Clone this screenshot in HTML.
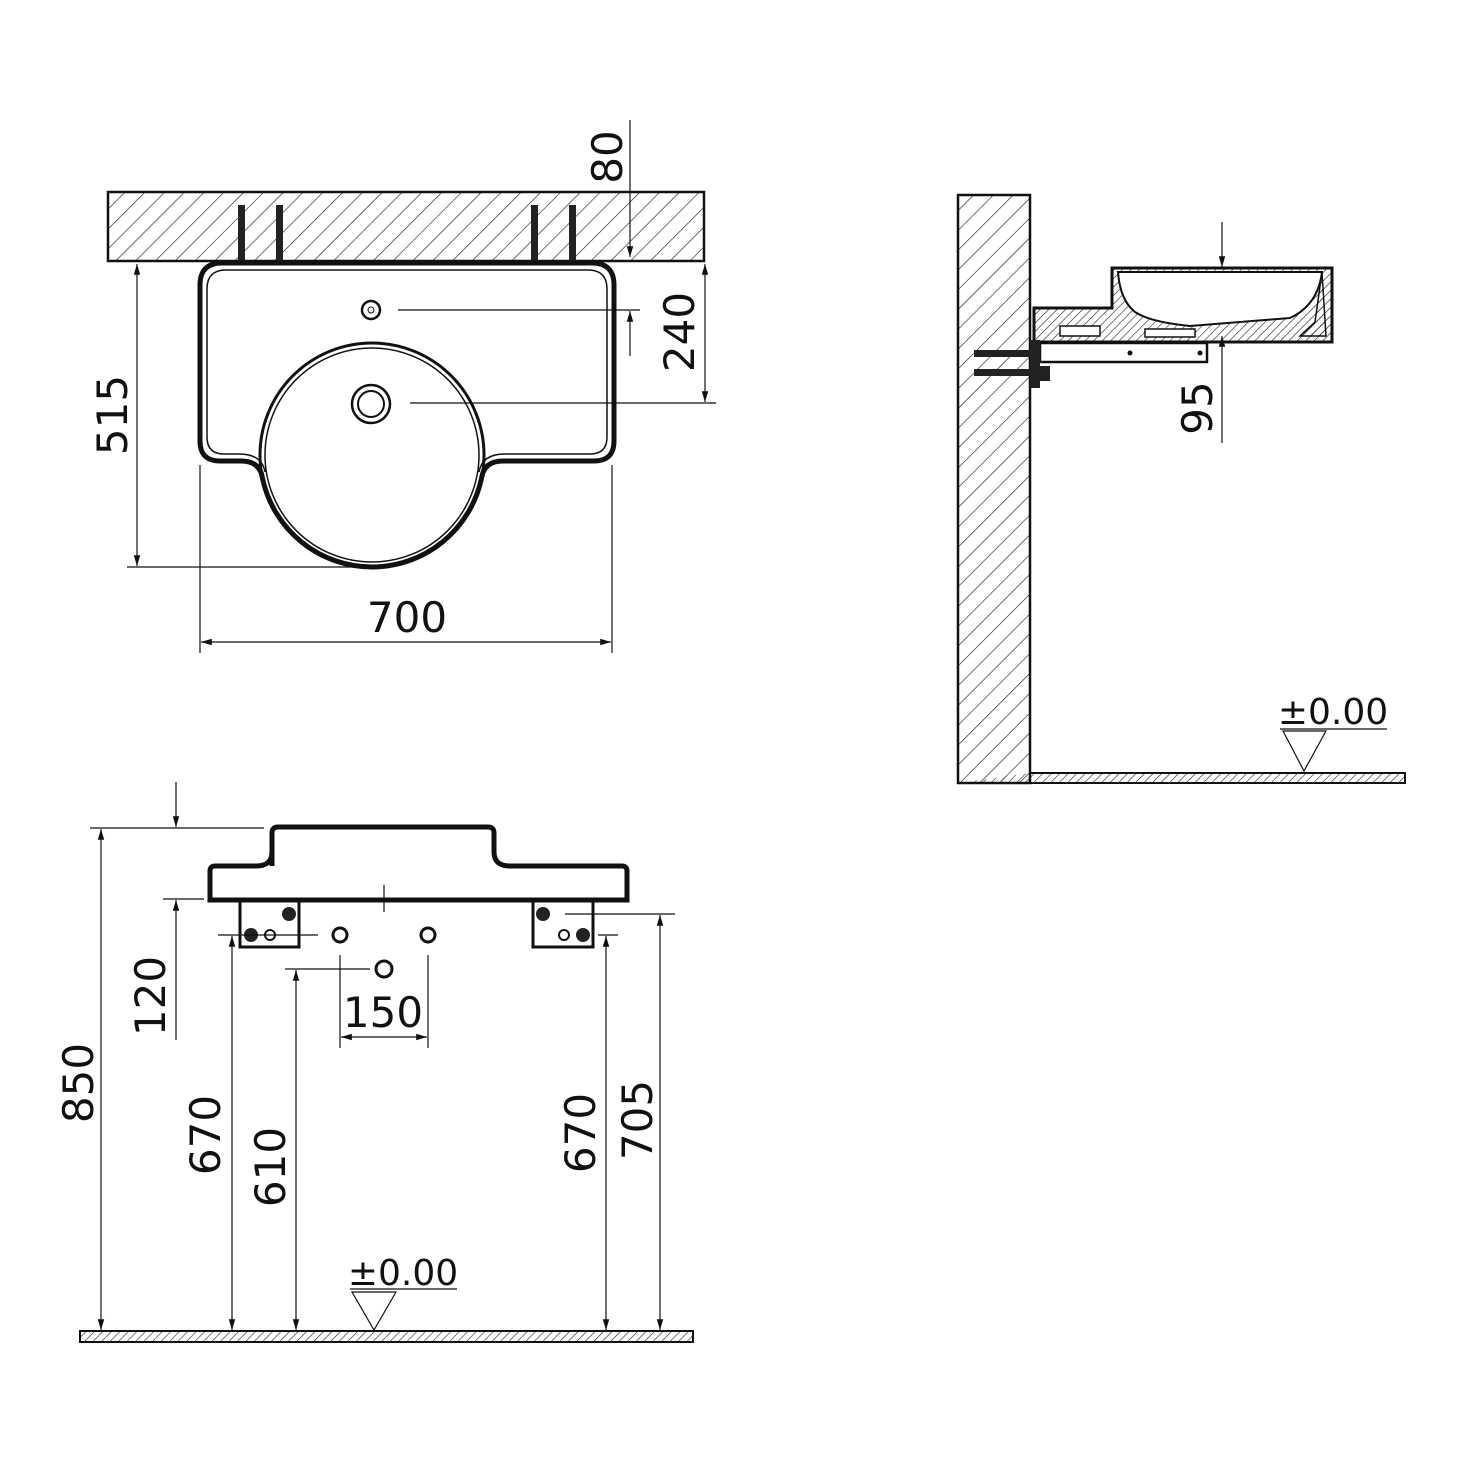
<!DOCTYPE html>
<html><head><meta charset="utf-8"><style>body{margin:0;background:#fff}svg{display:block}text{font-family:"DejaVu Sans","Liberation Sans",sans-serif;fill:#111}</style></head><body>
<svg width="1468" height="1468" viewBox="0 0 1468 1468" xmlns="http://www.w3.org/2000/svg">
<defs>
<pattern id="h" width="14" height="14" patternUnits="userSpaceOnUse" patternTransform="rotate(45)"><line x1="0" y1="0" x2="0" y2="14" stroke="#222" stroke-width="1.3"/></pattern>
<pattern id="h2" width="6" height="6" patternUnits="userSpaceOnUse" patternTransform="rotate(45)"><line x1="0" y1="0" x2="0" y2="6" stroke="#222" stroke-width="1.2"/></pattern>
<marker id="a" viewBox="0 0 10 10" refX="10" refY="5" markerWidth="9" markerHeight="9" orient="auto-start-reverse"><path d="M0,2 L10,5 L0,8 Z" fill="#111"/></marker>
</defs>
<g fill="none" stroke="#111">
<!-- TOP VIEW -->
<rect x="108" y="192" width="596" height="69" fill="url(#h)" stroke-width="2.5"/>
<g fill="#222" stroke="none"><rect x="238" y="205" width="7" height="57"/><rect x="276" y="205" width="7" height="57"/><rect x="531" y="205" width="7" height="57"/><rect x="569" y="205" width="7" height="57"/></g>
<path d="M222,263 H592 Q614,263 614,285 V441 Q614,461 594,461 H503 Q484,461 481.6,478 A112,112 0 0 1 262.4,478 Q260,461 241,461 H220 Q200,461 200,441 V285 Q200,263 222,263 Z" fill="#fff" stroke-width="5"/>
<path d="M226,270 H588 Q607,270 607,289 V437 Q607,454 590,454 H505 Q482,454 479,472" stroke-width="1.5"/>
<path d="M265,472 Q262,454 239,454 H224 Q207,454 207,437 V289 Q207,270 226,270" stroke-width="1.5"/>
<circle cx="372" cy="455" r="112" stroke-width="3"/>
<circle cx="372" cy="455" r="107" stroke-width="1.5"/>
<circle cx="371" cy="310" r="9" stroke-width="2.5"/><circle cx="371" cy="310" r="3" stroke-width="1"/>
<circle cx="371" cy="404" r="19" stroke-width="2.5"/><circle cx="371" cy="404" r="13" stroke-width="2"/>
<g stroke-width="1.2">
<line x1="398" y1="310" x2="640" y2="310"/><line x1="410" y1="403" x2="716" y2="403"/>
<line x1="630" y1="120" x2="630" y2="257" marker-end="url(#a)"/>
<line x1="630" y1="356" x2="630" y2="311" marker-end="url(#a)"/>
<line x1="705" y1="264" x2="705" y2="402" marker-start="url(#a)" marker-end="url(#a)"/>
<line x1="137" y1="264" x2="137" y2="566" marker-start="url(#a)" marker-end="url(#a)"/>
<line x1="127" y1="567" x2="370" y2="567"/>
<line x1="200" y1="465" x2="200" y2="653"/><line x1="612" y1="465" x2="612" y2="653"/>
<line x1="201" y1="642" x2="611" y2="642" marker-start="url(#a)" marker-end="url(#a)"/>
</g>
<!-- SIDE VIEW -->
<rect x="958" y="195" width="72" height="588" fill="url(#h)" stroke-width="2.5"/>
<path d="M1030,773 H1405 V783 H958" fill="url(#h2)" stroke-width="2"/>
<path d="M1112,268 H1332 V342 H1034 V308 H1112 Z" fill="url(#h2)" stroke-width="3"/>
<path d="M1118,272 H1322 Q1318,305 1290,318 L1190,326 Q1150,322 1135,312 Q1120,300 1118,272 Z" fill="#fff" stroke-width="2"/>
<path d="M1322,272 L1326,336 H1300 L1315,322 Z" fill="url(#h2)" stroke-width="1.5"/>
<rect x="1060" y="326" width="40" height="10" fill="#fff" stroke-width="1.5"/>
<rect x="1145" y="329" width="50" height="8" fill="#fff" stroke-width="1.5"/>
<rect x="1040" y="343" width="167" height="19" fill="#fff" stroke-width="2.5"/>
<g fill="#222" stroke="none"><rect x="974" y="350" width="56" height="7"/><rect x="974" y="369" width="56" height="7"/><rect x="1030" y="340" width="10" height="48"/><rect x="1040" y="366" width="10" height="15"/></g>
<g fill="#111" stroke="none"><circle cx="1130" cy="353" r="2.5"/><circle cx="1200" cy="353" r="2.5"/></g>
<g stroke-width="1.2">
<line x1="1222" y1="222" x2="1222" y2="267" marker-end="url(#a)"/>
<line x1="1222" y1="443" x2="1222" y2="336" marker-end="url(#a)"/>
<line x1="1280" y1="729" x2="1387" y2="729"/>
<path d="M1283,731 H1326 L1304,771 Z"/>
</g>
<!-- FRONT VIEW -->
<path d="M272,866 V833 Q272,827 278,827 H488 Q494,827 494,833 V852 Q494,866 510,866 H622 Q627,866 627,871 V900 H210 V871 Q210,866 215,866 H256 Q272,866 272,852 Z" stroke-width="5" fill="#fff"/>
<rect x="240" y="900" width="59" height="47" stroke-width="3"/>
<rect x="533" y="900" width="60" height="47" stroke-width="3"/>
<g fill="#222" stroke="none"><circle cx="289" cy="914" r="7"/><circle cx="251" cy="935" r="7"/><circle cx="543" cy="914" r="7"/><circle cx="583" cy="935" r="7"/></g>
<circle cx="270" cy="935" r="5" stroke-width="2"/><circle cx="564" cy="935" r="5" stroke-width="2"/>
<circle cx="340" cy="935" r="7" stroke-width="3"/><circle cx="428" cy="935" r="7" stroke-width="3"/><circle cx="384" cy="969" r="8" stroke-width="3"/>
<rect x="80" y="1331" width="613" height="11" fill="url(#h2)" stroke-width="2"/>
<g stroke-width="1.2">
<line x1="90" y1="828" x2="264" y2="828"/>
<line x1="176" y1="782" x2="176" y2="827" marker-end="url(#a)"/>
<line x1="101" y1="829" x2="101" y2="1330" marker-start="url(#a)" marker-end="url(#a)"/>
<line x1="163" y1="899" x2="204" y2="899"/>
<line x1="176" y1="900" x2="176" y2="1040" marker-start="url(#a)"/>
<line x1="218" y1="935" x2="318" y2="935"/>
<line x1="232" y1="936" x2="232" y2="1330" marker-start="url(#a)" marker-end="url(#a)"/>
<line x1="285" y1="969" x2="370" y2="969"/>
<line x1="296" y1="970" x2="296" y2="1330" marker-start="url(#a)" marker-end="url(#a)"/>
<line x1="340" y1="955" x2="340" y2="1048"/><line x1="428" y1="955" x2="428" y2="1048"/>
<line x1="341" y1="1037" x2="427" y2="1037" marker-start="url(#a)" marker-end="url(#a)"/>
<line x1="598" y1="935" x2="618" y2="935"/>
<line x1="606" y1="936" x2="606" y2="1330" marker-start="url(#a)" marker-end="url(#a)"/>
<line x1="565" y1="914" x2="675" y2="914"/>
<line x1="660" y1="915" x2="660" y2="1330" marker-start="url(#a)" marker-end="url(#a)"/>
<line x1="350" y1="1289" x2="457" y2="1289"/>
<path d="M352,1292 H396 L374,1330 Z"/>
<line x1="384" y1="885" x2="384" y2="912"/>
</g>
</g>
<g font-size="42">
<text x="407" y="632" text-anchor="middle">700</text>
<text transform="translate(127,415) rotate(-90)" text-anchor="middle">515</text>
<text transform="translate(694,332) rotate(-90)" text-anchor="middle">240</text>
<text transform="translate(622,157) rotate(-90)" text-anchor="middle">80</text>
<text transform="translate(1212,408) rotate(-90)" text-anchor="middle">95</text>
<text x="1333" y="724" text-anchor="middle" font-size="36">±0.00</text>
<text x="403" y="1285" text-anchor="middle" font-size="36">±0.00</text>
<text transform="translate(93,1083) rotate(-90)" text-anchor="middle">850</text>
<text transform="translate(165,996) rotate(-90)" text-anchor="middle">120</text>
<text transform="translate(220,1135) rotate(-90)" text-anchor="middle">670</text>
<text transform="translate(285,1167) rotate(-90)" text-anchor="middle">610</text>
<text x="383" y="1027" text-anchor="middle">150</text>
<text transform="translate(595,1133) rotate(-90)" text-anchor="middle">670</text>
<text transform="translate(652,1120) rotate(-90)" text-anchor="middle">705</text>
</g>
</svg>
</body></html>
